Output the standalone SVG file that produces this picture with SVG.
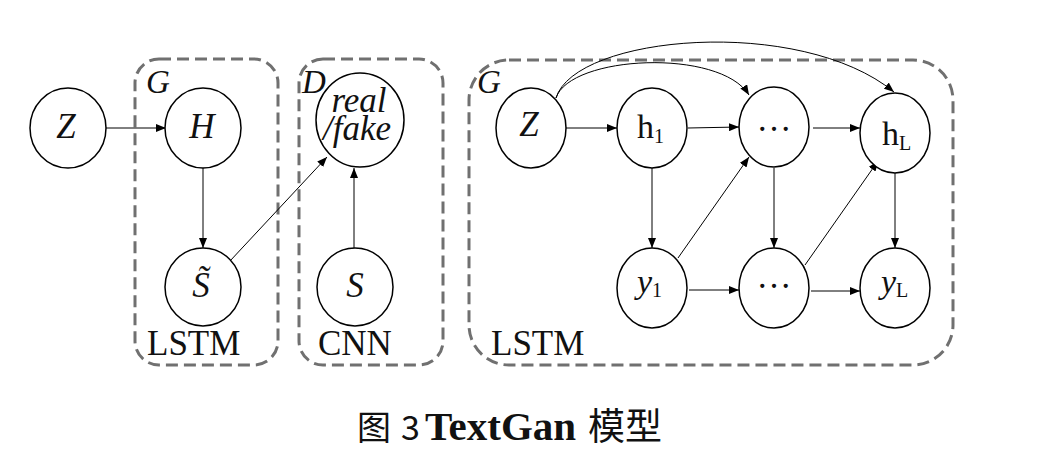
<svg xmlns="http://www.w3.org/2000/svg" width="1054" height="462" viewBox="0 0 1054 462">
<style>
.box{fill:none;stroke:#707070;stroke-width:3;stroke-dasharray:12 6}
.node{fill:#fff;stroke:#000;stroke-width:1.5}
.edge{fill:none;stroke:#000;stroke-width:1}
.t{fill:#111}
.i{font-style:italic}
.lbl{font-size:35px}
.gl{font-size:33px;font-style:italic}
.n{font-size:35px;text-anchor:middle}
.sub{font-size:20px}
</style>
<defs>
<marker id="arr" viewBox="0 0 10 8" refX="10" refY="4" markerWidth="10" markerHeight="8" markerUnits="userSpaceOnUse" orient="auto">
<path d="M0,0 L10,4 L0,8 Z" fill="#000"/>
</marker>
</defs>
<rect width="1054" height="462" fill="#fff"/>
<g font-family="Liberation Serif, Times New Roman, serif">
<g id="groups">
<rect class="box" x="135" y="59" width="143" height="306" rx="24"/>
<rect class="box" x="299" y="59" width="144" height="306" rx="24"/>
<rect class="box" x="469" y="60" width="484" height="305" rx="40"/>
<text class="t gl" x="146" y="93">G</text>
<text class="t gl" x="302" y="93">D</text>
<text class="t gl" x="477" y="93">G</text>
<text class="t lbl" x="147" y="355">LSTM</text>
<text class="t lbl" x="318" y="355">CNN</text>
<text class="t lbl" x="491" y="355">LSTM</text>
</g>
<g id="connectors">
<path class="edge" d="M106,128 L166,128" marker-end="url(#arr)"/>
<path class="edge" d="M203,168 L203,248" marker-end="url(#arr)"/>
<path class="edge" d="M230,261 L327,157" marker-end="url(#arr)" stroke-width="0.8"/>
<path class="edge" d="M354,248 L354,168" marker-end="url(#arr)"/>
<path class="edge" d="M566,128 L617,128" marker-end="url(#arr)"/>
<path class="edge" d="M688,128 L739,127" marker-end="url(#arr)"/>
<path class="edge" d="M813,128 L860,128" marker-end="url(#arr)"/>
<path class="edge" d="M652,168 L652,248" marker-end="url(#arr)"/>
<path class="edge" d="M774,168 L774,248" marker-end="url(#arr)"/>
<path class="edge" d="M895,173 L895,248" marker-end="url(#arr)"/>
<path class="edge" d="M689,290 L739,290" marker-end="url(#arr)"/>
<path class="edge" d="M811,291 L860,291" marker-end="url(#arr)"/>
<path class="edge" d="M678,258 L749,157" marker-end="url(#arr)" stroke-width="0.8"/>
<path class="edge" d="M805,265 L878,161" marker-end="url(#arr)" stroke-width="0.8"/>
<path class="edge" d="M556,98 C570,55 720,48 749,95" marker-end="url(#arr)" stroke-width="0.8"/>
<path class="edge" d="M556,98 C575,35 800,15 894,92" marker-end="url(#arr)" stroke-width="0.8"/>
</g>
<g id="node-Z1"><ellipse class="node" cx="68" cy="128" rx="38" ry="40"/><text class="t i n" x="66" y="138">Z</text></g>
<g id="node-H"><ellipse class="node" cx="203" cy="128" rx="38" ry="40"/><text class="t i n" x="202" y="138">H</text></g>
<g id="node-S-tilde"><ellipse class="node" cx="203" cy="287" rx="38" ry="39"/><text class="t i n" x="201" y="297" font-size="36">S&#x303;</text></g>
<g id="node-realfake"><ellipse class="node" cx="360" cy="120" rx="44" ry="47"/><text class="t i" font-size="35" text-anchor="middle"><tspan x="359" y="112">real</tspan><tspan x="357" y="140">/fake</tspan></text></g>
<g id="node-S"><ellipse class="node" cx="355" cy="287" rx="38" ry="39"/><text class="t i n" x="355" y="297">S</text></g>
<g id="node-Z2"><ellipse class="node" cx="531" cy="128" rx="35" ry="40"/><text class="t i n" x="529" y="136" font-size="32">Z</text></g>
<g id="node-h1"><ellipse class="node" cx="652" cy="128" rx="35" ry="40"/><text class="t" x="637" y="138" font-size="34">h<tspan class="sub" dy="5">1</tspan></text></g>
<g id="node-dots1"><ellipse class="node" cx="774" cy="127" rx="35" ry="40"/><text class="t n" x="774" y="131">…</text></g>
<g id="node-hL"><ellipse class="node" cx="895" cy="133" rx="35" ry="40"/><text class="t" x="882" y="145" font-size="34">h<tspan class="sub" dy="5">L</tspan></text></g>
<g id="node-y1"><ellipse class="node" cx="652" cy="288" rx="35" ry="40"/><text class="t" x="637" y="293" font-size="34"><tspan class="i">y</tspan><tspan class="sub" dy="4">1</tspan></text></g>
<g id="node-dots2"><ellipse class="node" cx="774" cy="288" rx="35" ry="40"/><text class="t n" x="774" y="288">…</text></g>
<g id="node-yL"><ellipse class="node" cx="895" cy="288" rx="35" ry="40"/><text class="t" x="881" y="293" font-size="34"><tspan class="i">y</tspan><tspan class="sub" dy="4">L</tspan></text></g>
</g>
<g id="caption">
<text x="357" y="440" font-size="34" fill="#111" font-family="'Noto Sans CJK SC',sans-serif">图</text>
<text x="401" y="440" font-size="34" fill="#111" font-family="'Noto Sans CJK SC',sans-serif">3</text>
<text x="425" y="440" font-size="41" font-weight="bold" fill="#111" font-family="'Liberation Serif','Times New Roman',serif">TextGan</text>
<text x="588" y="440" font-size="37" fill="#111" font-family="'Noto Sans CJK SC',sans-serif">模型</text>
</g>
</svg>
